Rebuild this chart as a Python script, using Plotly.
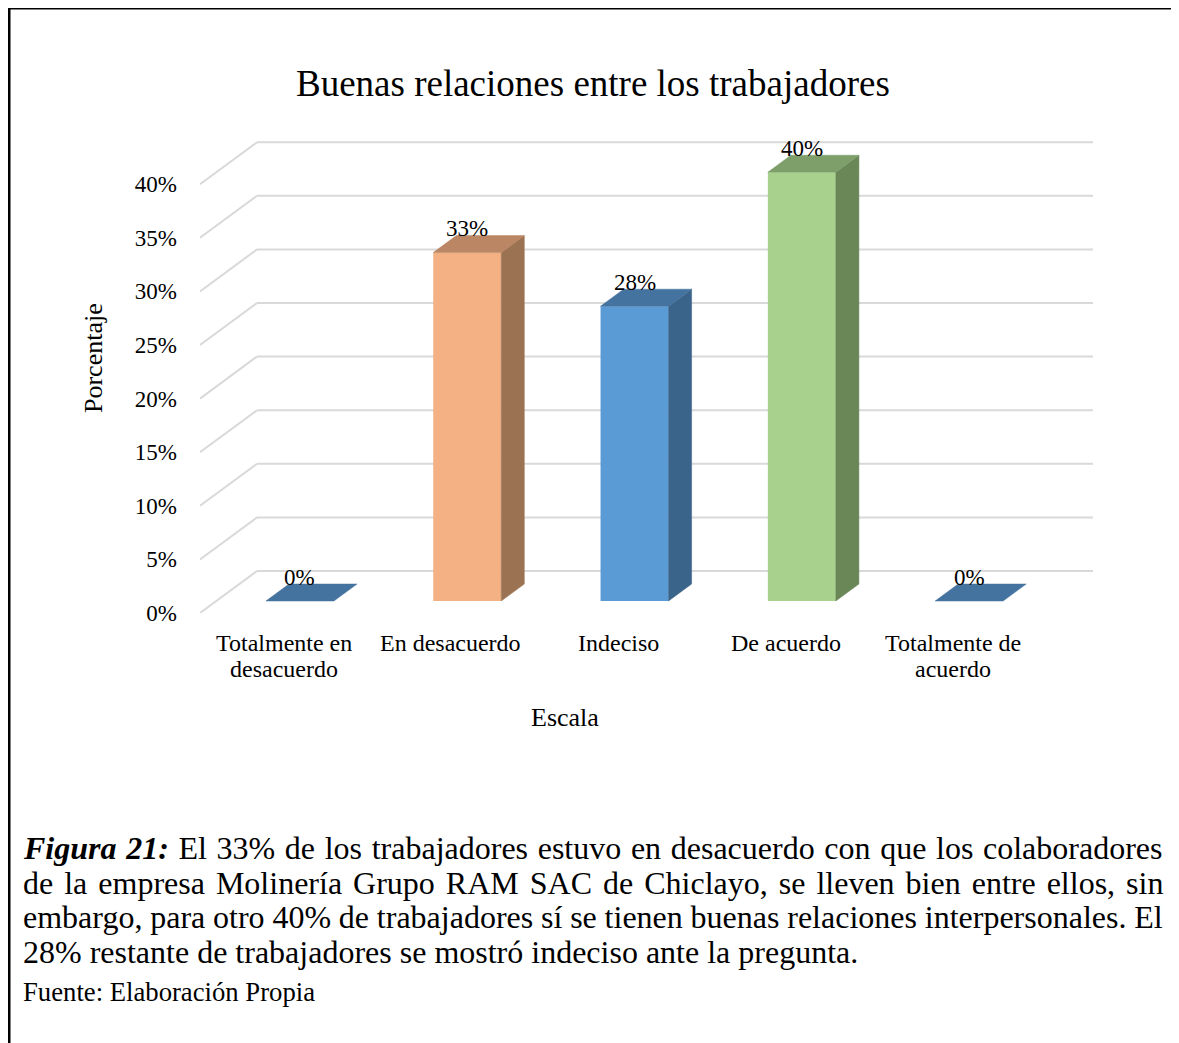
import plotly.graph_objects as go

# ---------------- data ----------------
categories = ["Totalmente en desacuerdo", "En desacuerdo", "Indeciso", "De acuerdo", "Totalmente de acuerdo"]
category_lines = [["Totalmente en", "desacuerdo"], ["En desacuerdo"], ["Indeciso"], ["De acuerdo"], ["Totalmente de", "acuerdo"]]
values = [0.0, 0.325, 0.275, 0.40, 0.0]
value_labels = ["0%", "33%", "28%", "40%", "0%"]
y_ticks = [0.0, 0.05, 0.10, 0.15, 0.20, 0.25, 0.30, 0.35, 0.40]
y_tick_labels = ["0%", "5%", "10%", "15%", "20%", "25%", "30%", "35%", "40%"]

title_text = "Buenas relaciones entre los trabajadores"
x_title = "Escala"
y_title = "Porcentaje"
caption_lines = [
    "<b><i>Figura 21:</i></b> El 33% de los trabajadores estuvo en desacuerdo con que los colaboradores",
    "de la empresa Molinería Grupo RAM SAC de Chiclayo, se lleven bien entre ellos, sin",
    "embargo, para otro 40% de trabajadores sí se tienen buenas relaciones interpersonales. El",
    "28% restante de trabajadores se mostró indeciso ante la pregunta.",
]
caption_word_spacing = [1.65, 3.0, -0.2, 0.0]
source_text = "Fuente: Elaboración Propia"

# ---------------- styling ----------------
front_colors = ["#5B9BD5", "#F4B183", "#5B9BD5", "#A9D18E", "#5B9BD5"]
top_colors = ["#44739F", "#BA8663", "#44739F", "#7E9E6A", "#44739F"]
side_colors = ["#3A6489", "#9C7352", "#3A6489", "#6A8758", "#3A6489"]
FONT = "Liberation Serif, Times New Roman, serif"

OFF = 8  # page body margin
W, H = 1179 - OFF, 1043 - OFF
L, R, T, B = 200 - OFF, 1093 - OFF, 130 - OFF, 613 - OFF
XU = 167.3          # px per category
YU = 1072.0         # px per unit fraction
x_lo = -0.5
x_hi = x_lo + (R - L) / XU
y_lo = 0.0
y_hi = (B - T) / YU
DX = 57 / XU        # depth offset in x units
DY = 42 / YU        # depth offset in y units
F0, F1 = 12 / 42, 29 / 42
BW = 68 / XU


def pyp(p):
    return (B - (p - OFF)) / (B - T)


def pxp(p):
    return ((p - OFF) - L) / (R - L)


n = len(categories)
fig = go.Figure()

shapes = []
for v in y_ticks:
    shapes.append(dict(type="line", xref="x", yref="y", layer="below",
                       x0=x_lo, y0=v, x1=x_lo + DX, y1=v + DY,
                       line=dict(color="#D9D9D9", width=2)))
    shapes.append(dict(type="line", xref="x", yref="y", layer="below",
                       x0=x_lo + DX, y0=v + DY, x1=x_lo + DX + n, y1=v + DY,
                       line=dict(color="#D9D9D9", width=2)))

shapes.append(dict(type="rect", xref="paper", yref="paper",
                   x0=pxp(9), y0=pyp(8), x1=pxp(1200), y1=pyp(1100),
                   line=dict(color="black", width=3), layer="above"))

xs_front = [i + F0 * DX for i in range(n)]
fig.add_trace(go.Bar(x=xs_front, y=values, base=F0 * DY, width=BW,
                     marker=dict(color=front_colors, line=dict(width=0)),
                     hoverinfo="skip", showlegend=False))

ddx = (F1 - F0) * DX
ddy = (F1 - F0) * DY
for i, v in enumerate(values):
    xl = xs_front[i] - BW / 2
    xr = xs_front[i] + BW / 2
    b0 = F0 * DY
    if v > 0:
        fig.add_trace(go.Scatter(
            x=[xr, xr + ddx, xr + ddx, xr, xr],
            y=[b0, b0 + ddy, b0 + ddy + v, b0 + v, b0],
            fill="toself", fillcolor=side_colors[i], mode="lines",
            line=dict(width=0.5, color=side_colors[i]), hoverinfo="skip", showlegend=False))
    fig.add_trace(go.Scatter(
        x=[xl, xr, xr + ddx, xl + ddx, xl],
        y=[b0 + v, b0 + v, b0 + v + ddy, b0 + v + ddy, b0 + v],
        fill="toself", fillcolor=top_colors[i], mode="lines",
        line=dict(width=0.5, color=top_colors[i]), hoverinfo="skip", showlegend=False))

annotations = []
for i, v in enumerate(values):
    annotations.append(dict(x=xs_front[i], y=F0 * DY + v + ddy, xref="x", yref="y",
                            text=value_labels[i], showarrow=False, xanchor="center",
                            yanchor="middle", yshift=7,
                            font=dict(family=FONT, size=23, color="black")))
for i, lines in enumerate(category_lines):
    for k, t in enumerate(lines):
        annotations.append(dict(x=i, y=pyp(643 + 26 * k), xref="x", yref="paper",
                                text=t, showarrow=False, xanchor="center", yanchor="middle",
                                font=dict(family=FONT, size=24, color="black")))
annotations.append(dict(x=pxp(593), y=pyp(83), xref="paper", yref="paper", text=title_text,
                        showarrow=False, xanchor="center", yanchor="middle",
                        font=dict(family=FONT, size=37, color="black")))
annotations.append(dict(x=pxp(565), y=pyp(717), xref="paper", yref="paper", text=x_title,
                        showarrow=False, xanchor="center", yanchor="middle",
                        font=dict(family=FONT, size=26, color="black")))
annotations.append(dict(x=pxp(93), y=pyp(358), xref="paper", yref="paper", text=y_title,
                        showarrow=False, xanchor="center", yanchor="middle", textangle=-90,
                        font=dict(family=FONT, size=26, color="black")))
for k, line in enumerate(caption_lines):
    ws = caption_word_spacing[k]
    txt = line if ws == 0 else '<span style="word-spacing:%.2fpx">%s</span>' % (ws, line)
    annotations.append(dict(x=pxp(21), y=pyp(848 + 34.7 * k), xref="paper", yref="paper",
                            text=txt, showarrow=False, xanchor="left", yanchor="middle",
                            font=dict(family=FONT, size=32, color="black")))
annotations.append(dict(x=pxp(21), y=pyp(992), xref="paper", yref="paper", text=source_text,
                        showarrow=False, xanchor="left", yanchor="middle",
                        font=dict(family=FONT, size=26.7, color="black")))

fig.update_layout(
    width=W, height=H,
    margin=dict(l=L, r=W - R, t=T, b=H - B, pad=0),
    paper_bgcolor="white", plot_bgcolor="white",
    showlegend=False,
    shapes=shapes, annotations=annotations,
    xaxis=dict(range=[x_lo, x_hi], showgrid=False, zeroline=False, showline=False,
               showticklabels=False, ticks="", fixedrange=True),
    yaxis=dict(range=[y_lo, y_hi], tickvals=y_ticks, ticktext=y_tick_labels,
               showgrid=False, zeroline=False, showline=False, ticks="",
               ticklabelstandoff=22,
               tickfont=dict(family=FONT, size=23, color="black"), fixedrange=True),
)

fig.write_html("out.html")
